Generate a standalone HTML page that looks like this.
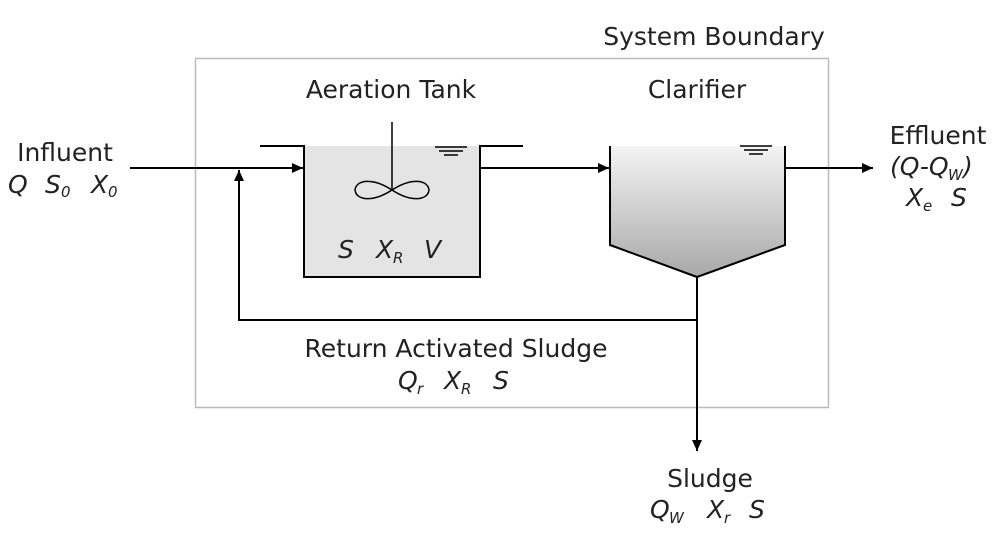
<!DOCTYPE html>
<html><head><meta charset="utf-8"><style>html,body{margin:0;padding:0;background:#fff}svg{display:block}text{font-family:"DejaVu Sans","Liberation Sans",sans-serif;font-size:25px;fill:#222}.i{font-style:italic}.s{font-style:italic;font-size:15px}</style></head>
<body>
<svg width="1000" height="534" viewBox="0 0 1000 534" xmlns="http://www.w3.org/2000/svg">
<defs>
<linearGradient id="g" x1="0" y1="0" x2="0" y2="1"><stop offset="0" stop-color="#f4f4f4"/><stop offset="1" stop-color="#a8a8a8"/></linearGradient>
<marker id="a" markerWidth="12" markerHeight="12" refX="11" refY="6" orient="auto" markerUnits="userSpaceOnUse"><path d="M0,1 L11,6 L0,11 Z" fill="#000"/></marker>
</defs>
<rect x="195.5" y="58.5" width="633" height="349" fill="none" stroke="#bbb" stroke-width="1.5"/>
<text x="714" y="45" text-anchor="middle">System Boundary</text>
<text x="391" y="98" text-anchor="middle">Aeration Tank</text>
<text x="697" y="98" text-anchor="middle">Clarifier</text>
<rect x="304" y="146" width="176" height="131" fill="#e4e4e4"/>
<path d="M260,146 H304 V277 H480 V146 H523" fill="none" stroke="#000" stroke-width="2"/>
<line x1="392" y1="122" x2="392" y2="190" stroke="#000" stroke-width="1.5"/>
<path d="M392,190 C372,177 356,180 355,190 C356,200 372,203 392,190 C412,177 428,180 429,190 C428,200 412,203 392,190 Z" fill="none" stroke="#000" stroke-width="1.5"/>
<path d="M435,147 H467 M439,151 H463 M444,155 H458" stroke="#000" stroke-width="1.5"/>
<text x="338" y="258" class="i">S</text><text x="376" y="258" class="i">X</text><text x="393" y="263" class="s">R</text><text x="424" y="258" class="i">V</text>
<path d="M610,146 V245 L697,277 L785,245 V146 Z" fill="url(#g)"/>
<path d="M610,146 V245 L697,277 L785,245 V146" fill="none" stroke="#000" stroke-width="2"/>
<path d="M740,146 H772 M744,150 H768 M749,154 H763" stroke="#000" stroke-width="1.5"/>
<line x1="130" y1="168" x2="303" y2="168" stroke="#000" stroke-width="2" marker-end="url(#a)"/>
<line x1="480" y1="168" x2="609" y2="168" stroke="#000" stroke-width="2" marker-end="url(#a)"/>
<line x1="785" y1="168" x2="873" y2="168" stroke="#000" stroke-width="2" marker-end="url(#a)"/>
<path d="M697,277 V320 H239 V170" fill="none" stroke="#000" stroke-width="2" marker-end="url(#a)"/>
<line x1="697" y1="320" x2="697" y2="451" stroke="#000" stroke-width="2" marker-end="url(#a)"/>
<text x="65" y="161" text-anchor="middle">Influent</text>
<text x="8" y="193" class="i">Q</text><text x="45" y="193" class="i">S</text><text x="61" y="197" class="s">0</text><text x="91" y="193" class="i">X</text><text x="108" y="197" class="s">0</text>
<text x="938" y="144" text-anchor="middle">Effluent</text>
<text x="890" y="175" class="i">(Q-Q</text><text x="948" y="180" class="s">W</text><text x="963" y="175" class="i">)</text>
<text x="906" y="206" class="i">X</text><text x="923" y="211" class="s">e</text><text x="951" y="206" class="i">S</text>
<text x="456" y="357" text-anchor="middle">Return Activated Sludge</text>
<text x="398" y="389" class="i">Q</text><text x="417" y="394" class="s">r</text><text x="444" y="389" class="i">X</text><text x="461" y="394" class="s">R</text><text x="493" y="389" class="i">S</text>
<text x="710" y="487" text-anchor="middle">Sludge</text>
<text x="650" y="518" class="i">Q</text><text x="669" y="523" class="s">W</text><text x="707" y="518" class="i">X</text><text x="724" y="523" class="s">r</text><text x="749" y="518" class="i">S</text>
</svg>
</body></html>
